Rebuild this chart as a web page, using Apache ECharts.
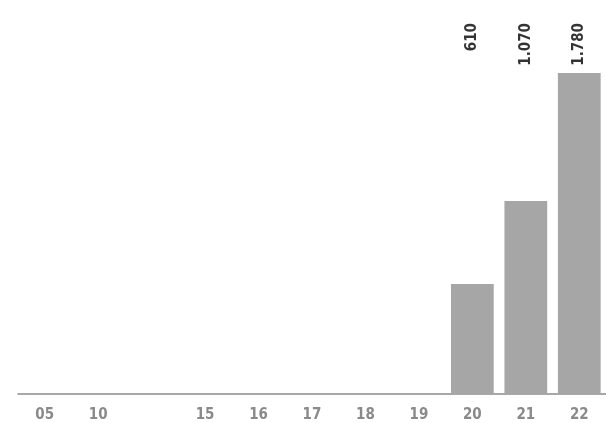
<!DOCTYPE html>
<html>
<head>
<meta charset="utf-8">
<script src="https://cdn.jsdelivr.net/npm/echarts@6/dist/echarts.min.js"></script>
<style>
html,body{margin:0;padding:0;background:#fff;overflow:hidden;}
#c{width:606px;height:423px;}
</style>
</head>
<body>
<div id="c"></div>
<script>
var categories = ['05', '10', '', '15', '16', '17', '18', '19', '20', '21', '22'];
var values = [0, 0, null, 0, 0, 0, 0, 0, 610, 1070, 1780];
var valueLabels = ['', '', '', '', '', '', '', '', '610', '1.070', '1.780'];
var yMax = 2058;

var FONT = "'Liberation Sans Narrow', 'DejaVu Sans Condensed', 'Arial Narrow', sans-serif";
var chart = echarts.init(document.getElementById('c'), null, {renderer: 'canvas'});
chart.setOption({
  animation: false,
  backgroundColor: '#ffffff',
  grid: {left: 18, width: 593, top: 23, bottom: 28, containLabel: false},
  xAxis: {
    type: 'category',
    data: categories,
    axisLine: {show: true, lineStyle: {color: '#8c8c8c', width: 1.5}},
    axisTick: {show: false},
    axisLabel: {
      color: '#8a8a8a', fontFamily: FONT, fontWeight: 'bold', fontSize: 15,
      margin: 14, interval: 0
    }
  },
  yAxis: {
    type: 'value', min: 0, max: yMax, show: false,
    splitLine: {show: false}
  },
  series: [
    {
      type: 'bar',
      data: values,
      barCategoryGap: '20%',
      itemStyle: {color: '#a6a6a6'},
      z: 2
    },
    {
      type: 'scatter',
      data: valueLabels.map(function (l) { return l ? yMax : '-'; }),
      symbolSize: 1,
      itemStyle: {color: 'rgba(0,0,0,0)'},
      label: {
        show: true,
        position: 'inside',
        rotate: 90,
        align: 'right',
        verticalAlign: 'middle',
        color: '#000',
        fontFamily: FONT,
        fontWeight: 'bold',
        fontSize: 15,
        formatter: function (p) { return valueLabels[p.dataIndex]; }
      },
      z: 3
    }
  ]
});
</script>
</body>
</html>
